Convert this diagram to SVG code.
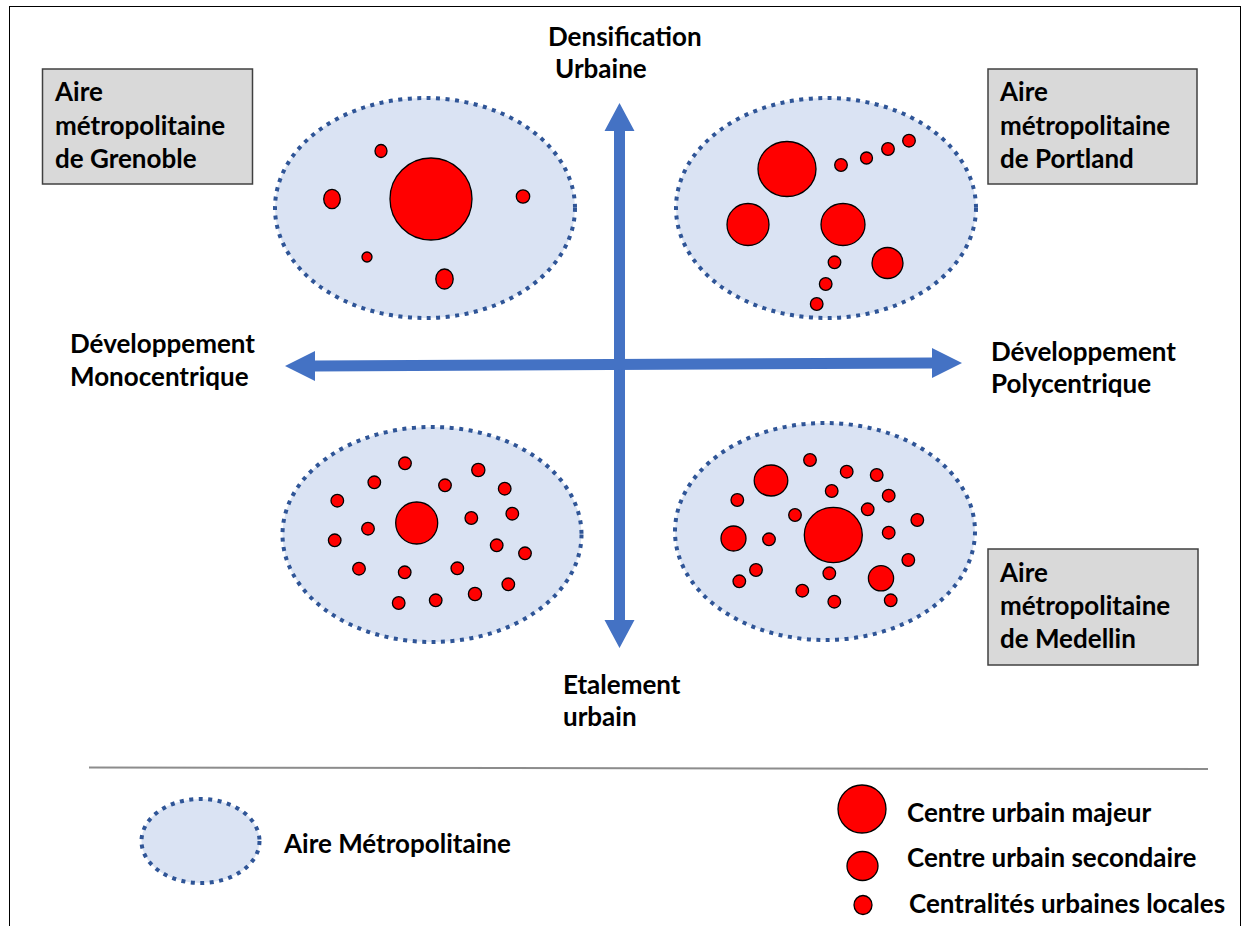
<svg xmlns="http://www.w3.org/2000/svg" width="1252" height="926" viewBox="0 0 1252 926">
<style>
.t{font-family:Lato,"Liberation Sans",sans-serif;font-weight:bold;font-size:26px;fill:#000}
.area{fill:#DAE3F3;stroke:#2F5597;stroke-width:4;stroke-dasharray:4 5.5}
.c{fill:#FF0000;stroke:#000;stroke-width:1.3}
.box{fill:#D9D9D9;stroke:#404040;stroke-width:1.5}
.ax{fill:#4472C4}
</style>
<rect x="0" y="0" width="1252" height="926" fill="#fff"/>
<rect x="9.5" y="6.5" width="1231" height="960" fill="none" stroke="#000" stroke-width="1"/>

<g id="connectors">
<polygon class="ax" points="619.5,103 634.5,131 625,131 625,620 634.5,620 619.5,648 604.5,620 614,620 614,131 604.5,131"/>
<polygon class="ax" points="285,366 315,351 315,360.5 932,357.5 932,348 962,363 932,378 932,368.5 315,371.5 315,381"/>
</g>

<g id="label-densification">
<text class="t" x="548" y="46">Densification</text>
<text class="t" x="555" y="78">Urbaine</text>
</g>
<g id="label-monocentrique">
<text class="t" x="70" y="353">Développement</text>
<text class="t" x="70" y="386">Monocentrique</text>
</g>
<g id="label-polycentrique">
<text class="t" x="991" y="361">Développement</text>
<text class="t" x="991" y="393">Polycentrique</text>
</g>
<g id="label-etalement">
<text class="t" x="563" y="694">Etalement</text>
<text class="t" x="563" y="726">urbain</text>
</g>

<g id="box-grenoble">
<rect class="box" x="42.5" y="69" width="210" height="115"/>
<text class="t" x="55" y="101">Aire</text>
<text class="t" x="55" y="135">métropolitaine</text>
<text class="t" x="55" y="168">de Grenoble</text>
</g>
<g id="box-portland">
<rect class="box" x="988" y="69" width="209" height="115"/>
<text class="t" x="1000" y="101">Aire</text>
<text class="t" x="1000" y="135">métropolitaine</text>
<text class="t" x="1000" y="168">de Portland</text>
</g>
<g id="box-medellin">
<rect class="box" x="988" y="549" width="210" height="116"/>
<text class="t" x="1000" y="582">Aire</text>
<text class="t" x="1000" y="615">métropolitaine</text>
<text class="t" x="1000" y="648">de Medellin</text>
</g>

<g id="area-grenoble">
<ellipse class="area" cx="425" cy="208" rx="150" ry="110"/>
<circle class="c" cx="431" cy="199" r="41"/>
<ellipse class="c" cx="381" cy="151" rx="6" ry="6.5"/>
<ellipse class="c" cx="332" cy="199" rx="8.3" ry="9.7"/>
<ellipse class="c" cx="523" cy="196.5" rx="6.7" ry="6.7"/>
<circle class="c" cx="367" cy="257" r="5"/>
<ellipse class="c" cx="444.5" cy="279" rx="8.7" ry="10"/>
</g>

<g id="area-portland">
<ellipse class="area" cx="826" cy="208" rx="150" ry="110"/>
<ellipse class="c" cx="787" cy="169" rx="29" ry="27.5"/>
<circle class="c" cx="748" cy="224.5" r="21"/>
<ellipse class="c" cx="843" cy="224.5" rx="22" ry="21"/>
<circle class="c" cx="887.5" cy="263" r="15.5"/>
<circle class="c" cx="841" cy="165" r="6.3"/>
<circle class="c" cx="866.5" cy="158" r="6"/>
<circle class="c" cx="888" cy="149" r="6.3"/>
<circle class="c" cx="909" cy="140.7" r="6.3"/>
<circle class="c" cx="834.5" cy="262.3" r="6.3"/>
<circle class="c" cx="825.7" cy="284" r="6.3"/>
<circle class="c" cx="816.7" cy="304" r="6.3"/>
</g>

<g id="area-etalement-mono">
<ellipse class="area" cx="432" cy="534.5" rx="149.5" ry="107.5"/>
<circle class="c" cx="416.7" cy="523" r="21"/>
<circle class="c" cx="405" cy="463.3" r="6.3"/>
<circle class="c" cx="374.3" cy="482.3" r="6.3"/>
<circle class="c" cx="337.3" cy="500.7" r="6.3"/>
<circle class="c" cx="478.3" cy="470" r="6.6"/>
<circle class="c" cx="445" cy="485.3" r="6.3"/>
<circle class="c" cx="504.7" cy="488.7" r="6.3"/>
<circle class="c" cx="512.3" cy="513.7" r="6.3"/>
<circle class="c" cx="471.3" cy="518" r="6.3"/>
<circle class="c" cx="368" cy="528.7" r="6.3"/>
<circle class="c" cx="334.7" cy="540.3" r="6.3"/>
<circle class="c" cx="496.7" cy="545.3" r="6.3"/>
<circle class="c" cx="525" cy="553.3" r="6.3"/>
<circle class="c" cx="359" cy="568.7" r="6.3"/>
<circle class="c" cx="404.7" cy="572.3" r="6.3"/>
<circle class="c" cx="457.3" cy="568.3" r="6.3"/>
<circle class="c" cx="508.3" cy="584.3" r="6.3"/>
<circle class="c" cx="475" cy="594" r="6.6"/>
<circle class="c" cx="435.7" cy="600.3" r="6.3"/>
<circle class="c" cx="398.7" cy="603" r="6.3"/>
</g>

<g id="area-medellin">
<ellipse class="area" cx="825" cy="531.5" rx="150" ry="108.5"/>
<ellipse class="c" cx="833.3" cy="535" rx="29" ry="27.7"/>
<ellipse class="c" cx="771" cy="480.5" rx="16.8" ry="15.5"/>
<circle class="c" cx="733.5" cy="538.5" r="12.5"/>
<circle class="c" cx="881" cy="578.3" r="12.6"/>
<circle class="c" cx="810" cy="460" r="6.3"/>
<circle class="c" cx="846.7" cy="471.7" r="6.3"/>
<circle class="c" cx="876.7" cy="475" r="6.3"/>
<circle class="c" cx="831.7" cy="491" r="6.3"/>
<circle class="c" cx="888.7" cy="495.7" r="6.3"/>
<circle class="c" cx="737.3" cy="500" r="6.3"/>
<circle class="c" cx="867.7" cy="509.3" r="6.3"/>
<circle class="c" cx="795" cy="515" r="6.3"/>
<circle class="c" cx="917.3" cy="520" r="6.3"/>
<circle class="c" cx="888.7" cy="532.7" r="6.3"/>
<circle class="c" cx="769" cy="539.3" r="6.3"/>
<circle class="c" cx="908.3" cy="560" r="6.3"/>
<circle class="c" cx="756" cy="570" r="6.3"/>
<circle class="c" cx="829.3" cy="573.3" r="6.3"/>
<circle class="c" cx="739.3" cy="581.3" r="6.3"/>
<circle class="c" cx="802.3" cy="590.7" r="6.3"/>
<circle class="c" cx="834.3" cy="601.7" r="6.3"/>
<circle class="c" cx="890.7" cy="600.3" r="6.3"/>
</g>

<g id="separator">
<line x1="89" y1="767.5" x2="1208" y2="769" stroke="#8C8C8C" stroke-width="2"/>
</g>

<g id="legend-aire">
<ellipse class="area" cx="200.5" cy="841" rx="59" ry="42"/>
<text class="t" x="284" y="853">Aire Métropolitaine</text>
</g>
<g id="legend-majeur">
<circle class="c" cx="862" cy="809" r="24"/>
<text class="t" x="907" y="822">Centre urbain majeur</text>
</g>
<g id="legend-secondaire">
<ellipse class="c" cx="862.5" cy="866" rx="15.5" ry="14.5"/>
<text class="t" x="907" y="867">Centre urbain secondaire</text>
</g>
<g id="legend-locales">
<ellipse class="c" cx="863" cy="905" rx="9" ry="9.5"/>
<text class="t" x="909" y="913">Centralités urbaines locales</text>
</g>
</svg>
